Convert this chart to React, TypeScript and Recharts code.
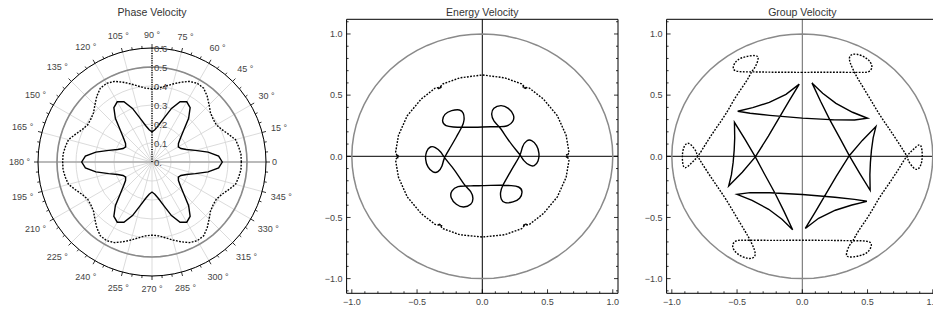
import React from "react";
import {
  RadarChart,
  Radar,
  PolarGrid,
  PolarAngleAxis,
  PolarRadiusAxis,
  ScatterChart,
  Scatter,
  XAxis,
  YAxis,
  ReferenceLine,
} from "recharts";

const FONT = "'Liberation Sans', Arial, Helvetica, sans-serif";
const LABEL = "#444";

// ---------- Phase velocity (polar) ----------
const phaseAngles = [
  0, 5, 10, 15, 20, 25, 30, 35, 40, 45, 50, 55, 60, 65, 70, 75, 80, 85, 90, 95, 100, 105, 110, 115,
  120, 125, 130, 135, 140, 145, 150, 155, 160, 165, 170, 175, 180, 185, 190, 195, 200, 205, 210, 215,
  220, 225, 230, 235, 240, 245, 250, 255, 260, 265, 270, 275, 280, 285, 290, 295, 300, 305, 310, 315,
  320, 325, 330, 335, 340, 345, 350, 355,
];
const phaseSolid = [
  0.37, 0.352, 0.3, 0.236, 0.193, 0.168, 0.16, 0.17, 0.195, 0.235, 0.3, 0.35, 0.366, 0.35, 0.3, 0.236, 0.195, 0.17, 0.158,
  0.17, 0.195, 0.236, 0.3, 0.35, 0.366, 0.35, 0.3, 0.235, 0.195, 0.17, 0.16, 0.168, 0.193, 0.236, 0.3, 0.352, 0.37,
  0.352, 0.3, 0.236, 0.193, 0.168, 0.16, 0.17, 0.195, 0.235, 0.3, 0.35, 0.366, 0.35, 0.3, 0.236, 0.195, 0.17, 0.158,
  0.17, 0.195, 0.236, 0.3, 0.35, 0.366, 0.35, 0.3, 0.235, 0.195, 0.17, 0.16, 0.168, 0.193, 0.236, 0.3, 0.352,
];
const phaseDotted = [
  0.47, 0.47, 0.463, 0.455, 0.428, 0.405, 0.391, 0.393, 0.402, 0.425, 0.452, 0.474, 0.478, 0.468, 0.447, 0.425, 0.405, 0.39, 0.385,
  0.39, 0.405, 0.425, 0.447, 0.468, 0.478, 0.474, 0.452, 0.425, 0.402, 0.393, 0.391, 0.405, 0.428, 0.455, 0.463, 0.47, 0.47,
  0.47, 0.463, 0.455, 0.428, 0.405, 0.391, 0.393, 0.402, 0.425, 0.452, 0.474, 0.478, 0.468, 0.447, 0.425, 0.405, 0.39, 0.385,
  0.39, 0.405, 0.425, 0.447, 0.468, 0.478, 0.474, 0.452, 0.425, 0.402, 0.393, 0.391, 0.405, 0.428, 0.455, 0.463, 0.47,
];
const phaseRing = 0.5;
const gridAngles = [0, 15, 30, 45, 60, 75, 90, 105, 120, 135, 150, 165, 180, 195, 210, 225, 240, 255, 270, 285, 300, 315, 330, 345];
const radiusTicks = [0, 0.1, 0.2, 0.3, 0.4, 0.5, 0.6];

const phaseData = phaseAngles.map((angle, i) => ({
  angle,
  solid: phaseSolid[i],
  dotted: phaseDotted[i],
  ring: phaseRing,
}));

// ---------- Energy velocity ----------
const energyInnerX = [
  0, 0.064, 0.128, 0.186, 0.232, 0.238, 0.199, 0.143, 0.089, 0.072, 0.089, 0.128, 0.174, 0.232, 0.289,
  0.319, 0.36, 0.398, 0.427, 0.434, 0.416, 0.378, 0.34, 0.309, 0.289, 0.243, 0.199, 0.158, 0.14, 0.146,
  0.176, 0.235, 0.286, 0.304, 0.278, 0.222, 0.158, 0.064, 0,
  -0.064, -0.128, -0.186, -0.232, -0.238, -0.199, -0.143, -0.089, -0.072, -0.089, -0.128, -0.174, -0.232, -0.289,
  -0.319, -0.36, -0.398, -0.427, -0.434, -0.416, -0.378, -0.34, -0.309, -0.289, -0.243, -0.199, -0.158, -0.14, -0.146,
  -0.176, -0.235, -0.286, -0.304, -0.278, -0.222, -0.158, -0.064, 0,
];
const energyInnerY = [
  0.24, 0.241, 0.243, 0.248, 0.283, 0.338, 0.392, 0.414, 0.392, 0.343, 0.289, 0.243, 0.174, 0.087, 0.011,
  -0.035, -0.071, -0.076, -0.038, 0.025, 0.087, 0.128, 0.125, 0.079, 0.011, -0.076, -0.158, -0.237, -0.297, -0.351,
  -0.379, -0.373, -0.343, -0.289, -0.251, -0.24, -0.237, -0.238, -0.24,
  -0.241, -0.243, -0.248, -0.283, -0.338, -0.392, -0.414, -0.392, -0.343, -0.289, -0.243, -0.174, -0.087, -0.011,
  0.035, 0.071, 0.076, 0.038, -0.025, -0.087, -0.128, -0.125, -0.079, -0.011, 0.076, 0.158, 0.237, 0.297, 0.351,
  0.379, 0.373, 0.343, 0.289, 0.251, 0.24, 0.237, 0.238, 0.24,
];
const energyOuterAngle = [
  3, 15, 30, 45, 57, 61.5, 58.5, 63, 75, 90, 105, 117, 121.5, 118.5, 123, 135, 150, 165, 177, 181.5, 178.5,
  183, 195, 210, 225, 237, 241.5, 238.5, 243, 255, 270, 285, 297, 301.5, 298.5, 303, 315, 330, 345, 357,
  361.5, 358.5, 363,
];
const energyOuterRadius = [
  0.665, 0.665, 0.664, 0.662, 0.664, 0.646, 0.646, 0.664, 0.664, 0.665, 0.664, 0.664, 0.646, 0.646, 0.664,
  0.662, 0.664, 0.665, 0.665, 0.646, 0.646, 0.665, 0.665, 0.664, 0.662, 0.664, 0.646, 0.646, 0.664, 0.664,
  0.66, 0.664, 0.664, 0.646, 0.646, 0.664, 0.662, 0.664, 0.665, 0.665, 0.646, 0.646, 0.665,
];

// ---------- Group velocity ----------
const groupInnerX = [
  -0.023, -0.125, -0.253, -0.38, -0.495, -0.4, -0.25, 0, 0.25, 0.4, 0.5, 0.385, 0.258, 0.156, 0.074,
  0.14, 0.21, 0.29, 0.36, 0.44, 0.52, 0.518, 0.522, 0.53, 0.543, 0.564, 0.46, 0.36, 0.26, 0.18, 0.1,
  0.023, 0.125, 0.253, 0.38, 0.495, 0.4, 0.25, 0, -0.25, -0.4, -0.5, -0.385, -0.258, -0.156, -0.074,
  -0.14, -0.21, -0.29, -0.36, -0.44, -0.52, -0.518, -0.522, -0.53, -0.543, -0.564, -0.46, -0.36, -0.26, -0.18, -0.1,
  -0.023,
];
const groupInnerY = [
  0.59, 0.507, 0.441, 0.398, 0.368, 0.352, 0.335, 0.312, 0.298, 0.297, 0.311, 0.36, 0.433, 0.515, 0.6,
  0.45, 0.3, 0.145, 0.005, -0.14, -0.278, -0.15, -0.05, 0.05, 0.15, 0.243, 0.13, 0.005, -0.165, -0.31, -0.455,
  -0.59, -0.507, -0.441, -0.398, -0.368, -0.352, -0.335, -0.312, -0.298, -0.297, -0.311, -0.36, -0.433, -0.515, -0.6,
  -0.45, -0.3, -0.145, -0.005, 0.14, 0.278, 0.15, 0.05, -0.05, -0.15, -0.243, -0.13, -0.005, 0.165, 0.31, 0.455,
  0.59,
];
const groupOuterX = [
  0, -0.13, -0.26, -0.388, -0.508, -0.526, -0.495, -0.431, -0.36, -0.339, -0.36, -0.388, -0.431, -0.508, -0.584,
  -0.661, -0.737, -0.801, -0.852, -0.895, -0.916, -0.916, -0.89, -0.852, -0.814, -0.801, -0.735, -0.661, -0.584,
  -0.508, -0.44, -0.4, -0.367, -0.367, -0.418, -0.495, -0.533, -0.513, -0.469, -0.4, -0.26, -0.13, 0,
  0.13, 0.26, 0.388, 0.508, 0.526, 0.495, 0.431, 0.36, 0.339, 0.36, 0.388, 0.431, 0.508, 0.584,
  0.661, 0.737, 0.801, 0.852, 0.895, 0.916, 0.916, 0.89, 0.852, 0.814, 0.801, 0.735, 0.661, 0.584,
  0.508, 0.44, 0.4, 0.367, 0.367, 0.418, 0.495, 0.533, 0.513, 0.469, 0.4, 0.26, 0.13, 0,
];
const groupOuterY = [
  0.686, 0.687, 0.688, 0.69, 0.698, 0.741, 0.787, 0.815, 0.823, 0.796, 0.733, 0.69, 0.61, 0.488, 0.351,
  0.229, 0.106, 0, -0.057, -0.093, -0.057, 0.038, 0.101, 0.093, 0.038, 0, -0.114, -0.232, -0.355,
  -0.49, -0.61, -0.686, -0.766, -0.82, -0.834, -0.798, -0.738, -0.695, -0.686, -0.686, -0.687, -0.687, -0.686,
  -0.687, -0.688, -0.69, -0.698, -0.741, -0.787, -0.815, -0.823, -0.796, -0.733, -0.69, -0.61, -0.488, -0.351,
  -0.229, -0.106, 0, 0.057, 0.093, 0.057, -0.038, -0.101, -0.093, -0.038, 0, 0.114, 0.232, 0.355,
  0.49, 0.61, 0.686, 0.766, 0.82, 0.834, 0.798, 0.738, 0.695, 0.686, 0.686, 0.687, 0.687, 0.686,
];

// unit circle drawn in both cartesian panels
const circleAngles = [
  0, 5, 10, 15, 20, 25, 30, 35, 40, 45, 50, 55, 60, 65, 70, 75, 80, 85, 90, 95, 100, 105, 110, 115,
  120, 125, 130, 135, 140, 145, 150, 155, 160, 165, 170, 175, 180, 185, 190, 195, 200, 205, 210, 215,
  220, 225, 230, 235, 240, 245, 250, 255, 260, 265, 270, 275, 280, 285, 290, 295, 300, 305, 310, 315,
  320, 325, 330, 335, 340, 345, 350, 355, 360,
];
const circleRadius = 1;

const xTicks = [-1, -0.9, -0.8, -0.7, -0.6, -0.5, -0.4, -0.3, -0.2, -0.1, 0, 0.1, 0.2, 0.3, 0.4, 0.5, 0.6, 0.7, 0.8, 0.9, 1];
const yTicks = [-1.1, -1, -0.9, -0.8, -0.7, -0.6, -0.5, -0.4, -0.3, -0.2, -0.1, 0, 0.1, 0.2, 0.3, 0.4, 0.5, 0.6, 0.7, 0.8, 0.9, 1, 1.1];
const X_DOMAIN: [number, number] = [-1.04, 1.04];
const Y_DOMAIN: [number, number] = [-1.12, 1.12];

type Pt = { x: number; y: number };
const zip = (xs: number[], ys: number[]): Pt[] => xs.map((x, i) => ({ x, y: ys[i] }));
const fromPolar = (angles: number[], radius: (i: number) => number): Pt[] =>
  angles.map((a, i) => ({
    x: radius(i) * Math.cos((a * Math.PI) / 180),
    y: radius(i) * Math.sin((a * Math.PI) / 180),
  }));

const unitCircle = fromPolar(circleAngles, () => circleRadius);
const energyInner = zip(energyInnerX, energyInnerY);
const energyOuter = fromPolar(energyOuterAngle, (i) => energyOuterRadius[i]);
const groupInner = zip(groupInnerX, groupInnerY);
const groupOuter = zip(groupOuterX, groupOuterY);

// ---------- polar chart pieces ----------
const CX = 152;
const CY = 162;
const R = 114;

function AngleTick(props: any) {
  const a = Number(props.payload?.value ?? 0);
  if (a >= 360) return <g />;
  const rad = (a * Math.PI) / 180;
  const c = Math.cos(rad);
  const s = Math.sin(rad);
  const major = a % 15 === 0;
  const len = major ? 4 : 2.5;
  let label = null;
  if (major) {
    const text = a === 0 ? "0" : `${a} °`;
    const hw = text.length * 2.5;
    const d = R + 6 + hw * Math.abs(c) + 7 * Math.abs(s);
    label = (
      <text x={CX + d * c} y={CY - d * s} textAnchor="middle" dominantBaseline="central" fontSize={9} fontFamily={FONT} fill={LABEL}>
        {text}
      </text>
    );
  }
  return (
    <g>
      <line x1={CX + R * c} y1={CY - R * s} x2={CX + (R + len) * c} y2={CY - (R + len) * s} stroke="#000" strokeWidth={0.8} />
      {label}
    </g>
  );
}

function RadiusTick(props: any) {
  const v = Number(props.payload?.value ?? 0);
  const text = v === 0 ? "0." : v.toFixed(1);
  return (
    <text x={props.x + 2} y={props.y} textAnchor="start" dominantBaseline="central" fontSize={9.5} fontFamily={FONT} fill={LABEL}>
      {text}
    </text>
  );
}

function PhasePanel() {
  return (
    <div style={{ position: "absolute", left: 0, top: 0, width: 310, height: 312 }}>
      <RadarChart
        width={310}
        height={312}
        data={phaseData}
        cx={CX}
        cy={CY}
        innerRadius={0}
        outerRadius={R}
        startAngle={0}
        endAngle={360}
        margin={{ top: 0, right: 0, bottom: 0, left: 0 }}
      >
        <PolarGrid gridType="circle" polarAngles={gridAngles} stroke="#d2d2d2" strokeWidth={0.8} />
        <PolarGrid gridType="circle" polarAngles={[0, 180]} polarRadius={[]} stroke="#a8a8a8" strokeWidth={1.4} />
        <PolarAngleAxis
          dataKey="angle"
          type="number"
          domain={[0, 360]}
          ticks={phaseAngles}
          tickCount={73}
          axisLineType="circle"
          axisLine={{ stroke: "#000", strokeWidth: 1 }}
          tickLine={false}
          tick={(p: any) => <AngleTick {...p} />}
        />
        <PolarRadiusAxis
          angle={90}
          type="number"
          scale="linear"
          domain={[0, 0.6]}
          allowDataOverflow
          allowDecimals
          ticks={radiusTicks}
          tickCount={7}
          axisLine={{ stroke: "#000", strokeWidth: 1.6, strokeDasharray: "1 1.4" }}
          tick={(p: any) => <RadiusTick {...p} />}
        />
        <Radar dataKey="ring" stroke="#8a8a8a" strokeWidth={1.6} fill="none" fillOpacity={0} dot={false} isAnimationActive={false} />
        <Radar dataKey="dotted" stroke="#000" strokeWidth={1.4} strokeDasharray="1.8 1.4" fill="none" fillOpacity={0} dot={false} isAnimationActive={false} />
        <Radar dataKey="solid" stroke="#000" strokeWidth={1.4} fill="none" fillOpacity={0} dot={false} isAnimationActive={false} />
      </RadarChart>
      <div style={{ position: "absolute", left: CX - 80, top: 5, width: 160, textAlign: "center", fontSize: 10.5, lineHeight: "14px", fontFamily: FONT, color: "#333" }}>
        Phase Velocity
      </div>
    </div>
  );
}

// ---------- cartesian frame ticks ----------
const isMajor = (v: number) => Math.abs(v * 2 - Math.round(v * 2)) < 1e-6;
const fmt = (v: number) => (v < -1e-9 ? "\u2212" : "") + Math.abs(v).toFixed(1);
const tickLen = (v: number) => (isMajor(v) ? 4 : 2);

function BottomTick(p: any) {
  const v = Number(p.payload.value);
  return (
    <g>
      <line x1={p.x} y1={p.y} x2={p.x} y2={p.y - tickLen(v)} stroke="#000" strokeWidth={0.8} />
      {isMajor(v) && Math.abs(v) <= 1 ? (
        <text x={p.x} y={p.y + 11.5} textAnchor="middle" fontSize={9} fontFamily={FONT} fill={LABEL}>
          {fmt(v)}
        </text>
      ) : null}
    </g>
  );
}
function TopTick(p: any) {
  const v = Number(p.payload.value);
  return <line x1={p.x} y1={p.y} x2={p.x} y2={p.y + tickLen(v)} stroke="#000" strokeWidth={0.8} />;
}
function LeftTick(p: any) {
  const v = Number(p.payload.value);
  return (
    <g>
      <line x1={p.x} y1={p.y} x2={p.x + tickLen(v)} y2={p.y} stroke="#000" strokeWidth={0.8} />
      {isMajor(v) && Math.abs(v) <= 1 ? (
        <text x={p.x - 4} y={p.y + 3.2} textAnchor="end" fontSize={9} fontFamily={FONT} fill={LABEL}>
          {fmt(v)}
        </text>
      ) : null}
    </g>
  );
}
function RightTick(p: any) {
  const v = Number(p.payload.value);
  return <line x1={p.x} y1={p.y} x2={p.x - tickLen(v)} y2={p.y} stroke="#000" strokeWidth={0.8} />;
}

const noShape = () => <g />;
const frame = { stroke: "#000", strokeWidth: 1 };

function VelocityPanel(props: {
  left: number;
  title: string;
  inner: Pt[];
  outer: Pt[];
  innerJoint: "linear" | "natural";
  outerJoint: "linear" | "natural";
  vAxisColor: string;
}) {
  const { left, title, inner, outer, innerJoint, outerJoint, vAxisColor } = props;
  return (
    <div style={{ position: "absolute", left, top: 0, width: 320, height: 312 }}>
      <ScatterChart width={320} height={312} margin={{ top: 18, right: 11, bottom: 0, left: 0 }}>
        <XAxis xAxisId="b" type="number" dataKey="x" domain={X_DOMAIN} allowDataOverflow ticks={xTicks} interval={0}
          tickSize={0} tickMargin={0} tickLine={false} axisLine={frame} height={18.7} tick={(p: any) => <BottomTick {...p} />} />
        <XAxis xAxisId="t" orientation="top" type="number" domain={X_DOMAIN} allowDataOverflow ticks={xTicks} interval={0}
          tickSize={0} tickMargin={0} tickLine={false} axisLine={frame} height={1.3} tick={(p: any) => <TopTick {...p} />} />
        <YAxis yAxisId="l" type="number" dataKey="y" domain={Y_DOMAIN} allowDataOverflow ticks={yTicks} interval={0}
          tickSize={0} tickMargin={0} tickLine={false} axisLine={frame} width={36.6} tick={(p: any) => <LeftTick {...p} />} />
        <YAxis yAxisId="r" orientation="right" type="number" domain={Y_DOMAIN} allowDataOverflow ticks={yTicks} interval={0}
          tickSize={0} tickMargin={0} tickLine={false} axisLine={frame} width={1} tick={(p: any) => <RightTick {...p} />} />
        <ReferenceLine xAxisId="b" yAxisId="l" x={0} stroke={vAxisColor} strokeWidth={1} />
        <ReferenceLine xAxisId="b" yAxisId="l" y={0} stroke="#000" strokeWidth={1} />
        <Scatter xAxisId="b" yAxisId="l" data={unitCircle} fill="none" shape={noShape} line={{ stroke: "#8a8a8a", strokeWidth: 1.5 }}
          lineJointType="linear" isAnimationActive={false} legendType="none" />
        <Scatter xAxisId="b" yAxisId="l" data={outer} fill="none" shape={noShape}
          line={{ stroke: "#000", strokeWidth: 1.4, strokeDasharray: "1.8 1.4" }} lineJointType={outerJoint} isAnimationActive={false} legendType="none" />
        <Scatter xAxisId="b" yAxisId="l" data={inner} fill="none" shape={noShape}
          line={{ stroke: "#000", strokeWidth: 1.4 }} lineJointType={innerJoint} isAnimationActive={false} legendType="none" />
      </ScatterChart>
      <div style={{ position: "absolute", left: 36.6 + 135.7 - 80, top: 5, width: 160, textAlign: "center", fontSize: 10.5, lineHeight: "14px", fontFamily: FONT, color: "#333" }}>
        {title}
      </div>
    </div>
  );
}

export default function App() {
  return (
    <div style={{ position: "absolute", left: 0, top: 0, width: 933, height: 312, overflow: "hidden", background: "#fff" }}>
      <PhasePanel />
      <VelocityPanel left={310} title="Energy Velocity" inner={energyInner} outer={energyOuter} innerJoint="natural" outerJoint="linear" vAxisColor="#000" />
      <VelocityPanel left={630} title="Group Velocity" inner={groupInner} outer={groupOuter} innerJoint="linear" outerJoint="natural" vAxisColor="#666" />
    </div>
  );
}
